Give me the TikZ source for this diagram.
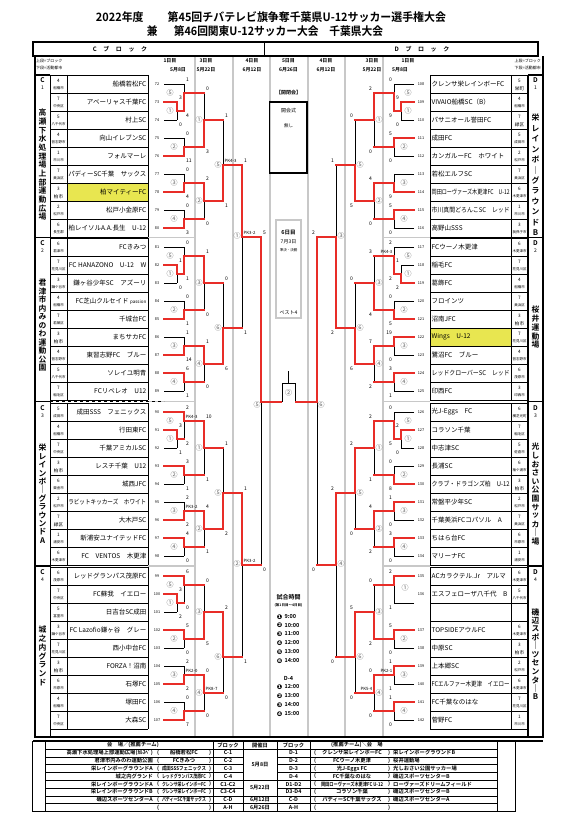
\documentclass[tikz,border=0pt]{standalone}
\usepackage{fontspec}
\setmainfont{Noto Sans CJK JP}[BoldFont={Noto Sans CJK JP Bold}]
\newfontfamily\dvs{DejaVu Sans}
\usepackage{graphicx}
\pgfdeclarelayer{top}
\pgfsetlayers{main,top}
\definecolor{rl}{RGB}{232,45,40}
\definecolor{yl}{RGB}{232,230,80}
\definecolor{gln}{RGB}{200,200,200}
\newsavebox\tnbox
\newcommand\fitw[2]{\sbox\tnbox{#2}\ifdim\wd\tnbox>#1\relax\resizebox{#1}{\height}{\usebox\tnbox}\else\usebox\tnbox\fi}
\newcommand\exw[2]{\resizebox{#1}{\height}{#2}}
\newcommand\fs[1]{\fontsize{#1}{#1}\selectfont}
\def\anc{west}
\tikzset{
  bk/.style={line width=0.8pt,black},
  rd/.style={line width=1.8pt,rl,line cap=rect},
  gline/.style={line width=1.3pt,gln},
  thk/.style={line width=1.6pt,black},
  thn/.style={line width=0.6pt,black},
  sc/.style={font=\fs{5},inner sep=0},
  pk/.style={font=\fs{4.3},inner sep=0},
  lb/.style={font=\fs{7},text=black!60,inner sep=0},
  mn/.style={font=\fs{3.8},inner sep=0},
  sd/.style={font=\fs{4.6},inner sep=0},
  ct/.style={font=\fs{3.5},inner sep=0},
  tm/.style={font=\fs{6.5},inner sep=0},
  vt/.style={font=\bfseries\fs{7.8},inner sep=0},
  hd/.style={font=\bfseries\fs{5},inner sep=0},
  tb/.style={font=\bfseries\fs{5.3},inner sep=0},
}
% match: xv, xa, ya, ta, xb, yb, tb, yo, winner
\newcommand\M[9]{%
 \ifnum#9=1\relax
  \draw[bk] (#1,{#8}) -- (#1,{#6});
  \ifnum#7=1\relax \draw[bk] (#5,{#6}) -- (#1,{#6});\fi
  \begin{pgfonlayer}{top}
   \draw[rd] (#2,{#3}) -- (#1,{#3}) -- (#1,{#8});
   \ifnum#7=0\relax \draw[rd] (#5,{#6}) -- (#1,{#6});\fi
  \end{pgfonlayer}
 \else
  \draw[bk] (#1,{#3}) -- (#1,{#8});
  \ifnum#4=1\relax \draw[bk] (#2,{#3}) -- (#1,{#3});\fi
  \begin{pgfonlayer}{top}
   \draw[rd] (#5,{#6}) -- (#1,{#6}) -- (#1,{#8});
   \ifnum#4=0\relax \draw[rd] (#2,{#3}) -- (#1,{#3});\fi
  \end{pgfonlayer}
 \fi}
\newcommand\SC[5]{\node[sc,anchor=\anc] at ({#1+2},{#2-4.5}) {#4};\node[sc,anchor=\anc] at ({#1+2},{#3+4.5}) {#5};}
\newcommand\PK[3]{\node[pk,anchor=\anc] at ({#1+1.5},{#2-4.5}) {#3};}
\newcommand\LB[3]{\node[lb] at (#1,{#2}) {#3};}
\newcommand\nineR[6]{%
 \M{177}{164}{#1+27}{1}{164}{#1+45}{1}{#1+36}{#2}%
 \M{184}{164}{#1+9}{1}{177}{#1+36}{0}{#1+18}{#3}%
 \M{184}{164}{#1+63}{1}{164}{#1+81}{1}{#1+72}{#4}%
 \M{184}{164}{#1+99}{1}{164}{#1+117}{1}{#1+108}{#5}%
 \M{184}{164}{#1+135}{1}{164}{#1+153}{1}{#1+144}{#6}%
 \LB{170}{#1+18}{⑤}\LB{170}{#1+36}{①}\LB{174}{#1+72}{②}\LB{174}{#1+108}{③}\LB{174}{#1+144}{④}}
\newcommand\eightR[5]{%
 \M{184}{164}{#1+9}{1}{164}{#1+36}{1}{#1+18}{#2}%
 \M{184}{164}{#1+63}{1}{164}{#1+81}{1}{#1+72}{#3}%
 \M{184}{164}{#1+99}{1}{164}{#1+117}{1}{#1+108}{#4}%
 \M{184}{164}{#1+135}{1}{164}{#1+153}{1}{#1+144}{#5}%
 \LB{173}{#1+21}{①}\LB{174}{#1+72}{②}\LB{174}{#1+108}{③}\LB{174}{#1+144}{④}}
\newcommand\nineS[5]{\SC{177}{#1+27}{#1+45}{#2}{#3}\SC{184}{#1+9}{#1+36}{#4}{#5}}
\newcommand\nineT[7]{\SC{184}{#1+63}{#1+81}{#2}{#3}\SC{184}{#1+99}{#1+117}{#4}{#5}\SC{184}{#1+135}{#1+153}{#6}{#7}}
\newcommand\thirdR[8]{%
 \M{204}{184}{#1+18}{0}{184}{#1+72}{0}{#1+45}{#3}%
 \M{204}{184}{#1+108}{0}{184}{#1+144}{0}{#1+126}{#4}%
 \M{204}{184}{#2+18}{0}{184}{#2+72}{0}{#2+45}{#5}%
 \M{204}{184}{#2+108}{0}{184}{#2+144}{0}{#2+126}{#6}%
 \M{223}{204}{#1+45}{0}{204}{#1+126}{0}{#1+90}{#7}%
 \M{223}{204}{#2+45}{0}{204}{#2+126}{0}{#2+90}{#8}%
 \LB{199}{#1+45}{①}\LB{199}{#1+126}{②}\LB{199}{#2+45}{③}\LB{199}{#2+126}{④}\LB{218}{#1+90}{⑤}\LB{218}{#2+90}{⑥}}
\newcommand\thirdS[8]{\SC{204}{#1+18}{#1+72}{#3}{#4}\SC{204}{#1+108}{#1+144}{#5}{#6}\SC{204}{#2+18}{#2+72}{#7}{#8}}
\newcommand\thirdT[8]{\SC{204}{#2+108}{#2+144}{#3}{#4}\SC{223}{#1+45}{#1+126}{#5}{#6}\SC{223}{#2+45}{#2+126}{#7}{#8}}
% teams
\newcommand\TL[6]{%
 \node[mn] at (157,{#1+18*#2-9}) {#3};
 \node[sd] at (58.5,{#1+18*#2-12.5}) {#4};
 \node[ct] at (58.5,{#1+18*#2-4.5}) {\fitw{14pt}{#5}};
 \node[tm,anchor=east] at (146.5,{#1+18*#2-9}) {\fitw{78pt}{#6}};}
\newcommand\TR[6]{%
 \node[mn] at (421,{#1+18*#2-9}) {#3};
 \node[sd] at (519.5,{#1+18*#2-12.5}) {#4};
 \node[ct] at (519.5,{#1+18*#2-4.5}) {\fitw{14pt}{#5}};
 \node[tm,anchor=west] at (431.5,{#1+18*#2-9}) {\fitw{78pt}{#6}};}
\newcommand\bgc[1]{{\fs{4.6}#1}}
\begin{document}
\begin{tikzpicture}[x=1pt,y=-1pt]
\useasboundingbox (0,0) rectangle (571,829);
\fill[white] (0,0) rectangle (571,829);
% ---- titles
\node[font=\bfseries\fs{11.5},inner sep=0] (t1) at (271,17) {\exw{350pt}{2022年度\hspace{2.2em}第45回チバテレビ旗争奪千葉県U-12サッカー選手権大会}};
\node[font=\bfseries\fs{11.5},inner sep=0] (t2) at (265,31) {\exw{236pt}{兼\hspace{1.5em}第46回関東U-12サッカー大会\hspace{1em}千葉県大会}};
% ---- header
\draw[thk] (33,42) rectangle (538,56);
\draw[thn] (264,42) -- (264,56);
\node[font=\bfseries\fs{6},inner sep=0] (hc) at (120,49) {C\hspace{1.1em}ブ\hspace{1.1em}ロ\hspace{1.1em}ッ\hspace{1.1em}ク};
\node[font=\bfseries\fs{6},inner sep=0] (hd) at (422,49) {D\hspace{1.1em}ブ\hspace{1.1em}ロ\hspace{1.1em}ッ\hspace{1.1em}ク};
\node[font=\fs{4},inner sep=0,anchor=west] at (36,61) {上段=ブロック};
\node[font=\fs{4},inner sep=0,anchor=west] at (36,68) {下段=活動都市};
\node[font=\fs{4},inner sep=0,anchor=east] at (541,61) {上段=ブロック};
\node[font=\fs{4},inner sep=0,anchor=east] at (541,68) {下段=活動都市};
\foreach \x/\a/\b/\bx in {170/1日目/5月8日/178, 206/3日目/5月22日/206, 252/4日目/6月12日/252, 288.5/5日目/6月26日/288.5, 326/4日目/6月12日/326, 372/3日目/5月22日/372, 408/1日目/5月8日/400}
 {\node[hd] at (\x,61) {\a}; \node[hd] at (\bx,70) {\b};}
% ---- gray column lines
\foreach \x in {195,233,270,308,345,383} \draw[gline] (\x,57) -- (\x,737);
\foreach \y in {237.5,401.5,566} {\draw[gline] (148,\y) -- (195,\y); \draw[gline] (383,\y) -- (430,\y);}
% ---- yellow cells
\fill[yl] (67,183) rectangle (148,201);
\fill[yl] (430,328) rectangle (511,346);
% ---- team grids
\foreach \s in {75,238,403,567} {
 \foreach \k in {0,...,9} {\draw[thn] (50,{\s+18*\k}) -- (148,{\s+18*\k}); \draw[thn] (430,{\s+18*\k}) -- (528,{\s+18*\k});}
 \draw[thn] (67,\s) -- (67,{\s+162}); \draw[thn] (148,\s) -- (148,{\s+162});
 \draw[thn] (511,\s) -- (511,{\s+162}); \draw[thn] (430,\s) -- (430,{\s+162});
}
\draw[thn,dashed] (50,401.5) -- (164,401.5);
% ---- frame and label columns
\draw[thk] (35,56) -- (35,737) -- (543,737) -- (543,56);
\draw[thn] (50,75) -- (50,737);
\draw[thk] (528,75) -- (528,737);
\foreach \y in {75,237.5,401.5,566} {\draw[thk] (35,\y) -- (50,\y); \draw[thk] (528,\y) -- (543,\y);}
\foreach \s/\n in {75/1,238/2,403/3,567/4} {
 \node[font=\bfseries\fs{6.5},inner sep=0] at (42.5,{\s+5}) {C};
 \node[font=\fs{5},inner sep=0] at (42.5,{\s+13}) {\n};
 \node[font=\bfseries\fs{6.5},inner sep=0] at (535.5,{\s+5}) {D};
 \node[font=\fs{5},inner sep=0] at (535.5,{\s+13}) {\n};
}
\foreach \c [count=\i from 0] in {高,瀬,下,水,処,理,場,上,部,運,動,広,場} \node[vt] at (42.5,{113+8.67*\i}) {\c};
\foreach \c [count=\i from 0] in {君,津,市,内,み,の,わ,運,動,公,園} \node[vt] at (42.5,{283+8.5*\i}) {\c};
\foreach \c [count=\i from 0] in {栄,レ,イ,ン,ボ,｜,グ,ラ,ウ,ン,ド,A} \node[vt] at (42.5,{448+8.4*\i}) {\c};
\foreach \c [count=\i from 0] in {城,之,内,グ,ラ,ン,ド} \node[vt] at (42.5,{630+8.7*\i}) {\c};
\foreach \c [count=\i from 0] in {栄,レ,イ,ン,ボ,｜,グ,ラ,ウ,ン,ド,B} \node[vt] at (535.5,{118+10.45*\i}) {\c};
\foreach \c [count=\i from 0] in {桜,井,運,動,場} \node[vt] at (535.5,{310+8.75*\i}) {\c};
\foreach \c [count=\i from 0] in {光,し,お,さ,い,公,園,サ,ッ,カ,｜,場} \node[vt] at (535.5,{447+8.6*\i}) {\c};
\foreach \c [count=\i from 0] in {磯,辺,ス,ポ,｜,ツ,セ,ン,タ,｜,B} \node[vt] at (535.5,{612+8.5*\i}) {\c};
% ---- left teams
\TL{75}{1}{72}{4}{船橋市}{船橋若松FC}
\TL{75}{2}{73}{7}{中央区}{アベーリャス千葉FC}
\TL{75}{3}{74}{5}{八千代市}{村上SC}
\TL{75}{4}{75}{4}{習志野市}{向山イレブンSC}
\TL{75}{5}{76}{1}{市川市}{フォルマーレ}
\TL{75}{6}{77}{7}{美浜区}{パディーSC千葉　サックス}
\TL{75}{7}{78}{3}{\bgc{柏市}}{柏マイティーFC}
\TL{75}{8}{79}{2}{松戸市}{松戸小金原FC}
\TL{75}{9}{80}{6}{長生郡}{柏レイソルA.A.長生　U-12}
\TL{238}{1}{81}{6}{君津市}{FCきみつ}
\TL{238}{2}{82}{7}{花見川区}{FC HANAZONO　U-12　W}
\TL{238}{3}{83}{3}{鎌ケ谷市}{鎌ヶ谷少年SC　アズーリ}
\TL{238}{4}{84}{4}{船橋市}{FC芝山クルセイド {\fs{4.5}passion}}
\TL{238}{5}{85}{7}{若葉区}{千城台FC}
\TL{238}{6}{86}{3}{\bgc{柏市}}{まちサカFC}
\TL{238}{7}{87}{4}{習志野市}{東習志野FC　ブルー}
\TL{238}{8}{88}{5}{八千代市}{ソレイユ明青}
\TL{238}{9}{89}{7}{稲毛区}{FCリベレオ　U12}
\TL{403}{1}{90}{5}{成田市}{成田SSS　フェニックス}
\TL{403}{2}{91}{4}{船橋市}{行田東FC}
\TL{403}{3}{92}{7}{中央区}{千葉アミカルSC}
\TL{403}{4}{93}{3}{\bgc{柏市}}{レスチ千葉　U12}
\TL{403}{5}{94}{6}{東金市}{城西JFC}
\TL{403}{6}{95}{2}{松戸市}{ラビットキッカーズ　ホワイト}
\TL{403}{7}{96}{7}{\bgc{緑区}}{大木戸SC}
\TL{403}{8}{97}{1}{浦安市}{新浦安ユナイテッドFC}
\TL{403}{9}{98}{6}{木更津市}{FC　VENTOS　木更津}
\TL{567}{1}{99}{6}{茂原市}{レッドグランパス茂原FC}
\TL{567}{2}{100}{7}{中央区}{FC蘇我　イエロー}
\TL{567}{3}{101}{5}{富里市}{日吉台SC成田}
\TL{567}{4}{102}{3}{鎌ケ谷市}{FC Lazofio鎌ヶ谷　グレー}
\TL{567}{5}{103}{7}{花見川区}{西小中台FC}
\TL{567}{6}{104}{3}{\bgc{柏市}}{FORZA！沼南}
\TL{567}{7}{105}{6}{市原市}{石塚FC}
\TL{567}{8}{106}{4}{船橋市}{塚田FC}
\TL{567}{9}{107}{7}{中央区}{大森SC}
% ---- right teams
\TR{75}{1}{108}{5}{\bgc{栄町}}{クレンサ栄レインボーFC}
\TR{75}{2}{109}{4}{船橋市}{VIVAIO船橋SC（B）}
\TR{75}{3}{110}{7}{\bgc{緑区}}{パサニオール誉田FC}
\TR{75}{4}{111}{5}{成田市}{成田FC}
\TR{75}{5}{112}{2}{松戸市}{カンガルーFC　ホワイト}
\TR{75}{6}{113}{7}{美浜区}{若松エルフSC}
\TR{75}{7}{114}{6}{木更津市}{岡田ローヴァーズ木更津FC　U-12}
\TR{75}{8}{115}{1}{市川市}{市川真間どろんこSC　レッド}
\TR{75}{9}{116}{3}{我孫子市}{高野山SSS}
\TR{238}{1}{117}{6}{木更津市}{FCウーノ木更津}
\TR{238}{2}{118}{7}{花見川区}{稲毛FC}
\TR{238}{3}{119}{4}{船橋市}{葛飾FC}
\TR{238}{4}{120}{7}{美浜区}{フロインツ}
\TR{238}{5}{121}{3}{\bgc{柏市}}{沼南JFC}
\TR{238}{6}{122}{7}{花見川区}{Wings　U-12}
\TR{238}{7}{123}{4}{習志野市}{鷺沼FC　ブルー}
\TR{238}{8}{124}{6}{茂原市}{レッドクローバーSC　レッド}
\TR{238}{9}{125}{3}{印西市}{印西FC}
\TR{403}{1}{126}{6}{横芝光町}{光J-Eggs　FC}
\TR{403}{2}{127}{7}{稲毛区}{コラソン千葉}
\TR{403}{3}{128}{5}{佐倉市}{中志津SC}
\TR{403}{4}{129}{6}{袖ケ浦市}{長浦SC}
\TR{403}{5}{130}{3}{\bgc{柏市}}{クラブ・ドラゴンズ柏　U-12}
\TR{403}{6}{131}{2}{松戸市}{常盤平少年SC}
\TR{403}{7}{132}{7}{美浜区}{千葉美浜FCコパソル　A}
\TR{403}{8}{133}{6}{市原市}{ちはら台FC}
\TR{403}{9}{134}{1}{浦安市}{マリーナFC}
\TR{567}{1}{135}{6}{木更津市}{ACカラクテル.Jr　アルマ}
\TR{567}{2}{136}{5}{八千代市}{エスフェローザ八千代　B}
\TR{567}{4}{137}{6}{木更津市}{TOPSIDEアウルFC}
\TR{567}{5}{138}{3}{\bgc{柏市}}{中原SC}
\TR{567}{6}{139}{2}{松戸市}{上本郷SC}
\TR{567}{7}{140}{6}{木更津市}{FCエルファー木更津　イエロー}
\TR{567}{8}{141}{7}{花見川区}{FC千葉なのはな}
\TR{567}{9}{142}{1}{市川市}{菅野FC}
% ---- left bracket
\begin{scope}
\def\anc{west}
\nineR{75}{1}{2}{2}{2}{2}
\nineS{75}{3}{0}{1}{4}\nineT{75}{0}{11}{0}{4}{0}{3}
\nineR{238}{1}{2}{2}{2}{1}
\nineS{238}{1}{0}{0}{1}\nineT{238}{0}{1}{1}{14}{6}{1}
\nineR{403}{1}{1}{1}{2}{1}
\nineS{403}{3}{1}{2}{2}\nineT{403}{3}{1}{2}{2}{4}{0}
\PK{184}{421}{PK4-3}\PK{184}{511}{PK3-2}
\nineR{567}{1}{1}{1}{2}{2}
\nineS{567}{3}{2}{6}{0}\nineT{567}{5}{0}{2}{2}{0}{7}
\PK{184}{675}{PK2-0}
\thirdR{75}{238}{2}{1}{1}{1}{2}{2}
\thirdS{75}{238}{0}{3}{2}{0}{1}{0}\thirdT{75}{238}{1}{0}{1}{1}{0}{6}
\PK{223}{165}{PK4-3}
\thirdR{403}{567}{1}{1}{2}{1}{2}{1}
\thirdS{403}{567}{10}{1}{4}{1}{0}{5}\thirdT{403}{567}{0}{0}{1}{2}{2}{0}
\PK{204}{693}{PK8-7}
\M{242}{223}{165}{0}{223}{328}{0}{237}{1}\SC{242}{165}{328}{1}{1}\PK{242}{237}{PK3-2}
\M{242}{223}{493}{0}{223}{657}{0}{565}{1}\SC{242}{493}{657}{1}{1}\PK{242}{565}{PK3-2}
\LB{237}{236}{①}\LB{237}{564}{②}
\M{261}{242}{237}{0}{242}{565}{0}{402}{1}\SC{261}{237}{565}{5}{0}
\LB{257}{405}{⑤}
\end{scope}
% ---- right bracket (mirrored)
\begin{scope}[xshift=578pt,xscale=-1]
\def\anc{east}
\nineR{75}{1}{2}{1}{2}{1}
\nineS{75}{9}{0}{0}{9}\nineT{75}{5}{0}{}{9}{5}{0}
\nineR{238}{2}{2}{2}{1}{1}
\nineS{238}{1}{2}{2}{2}\nineT{238}{0}{5}{19}{0}{3}{1}
\PK{184}{256}{PK4-3}
\nineR{403}{1}{2}{2}{1}{1}
\nineS{403}{12}{0}{0}{5}\nineT{403}{0}{8}{1}{0}{3}{0}
\eightR{567}{1}{1}{1}{1}
\SC{184}{576}{603}{2}{1}\nineT{567}{5}{0}{1}{1}{1}{0}
\PK{184}{675}{PK2-1}
\thirdR{75}{238}{1}{1}{2}{1}{2}{2}
\thirdS{75}{238}{2}{0}{4}{0}{3}{4}\thirdT{75}{238}{7}{2}{0}{5}{0}{6}
\thirdR{403}{567}{1}{1}{2}{1}{1}{1}
\thirdS{403}{567}{2}{1}{4}{2}{0}{2}\thirdT{403}{567}{0}{0}{2}{0}{5}{0}
\PK{204}{693}{PK5-4}
\M{242}{223}{165}{0}{223}{328}{0}{237}{2}\SC{242}{165}{328}{1}{2}
\M{242}{223}{493}{0}{223}{657}{0}{565}{1}\SC{242}{493}{657}{2}{0}
\LB{237}{236}{③}\LB{237}{564}{④}
\M{261}{242}{237}{0}{242}{565}{0}{402}{1}\SC{261}{237}{565}{2}{0}
\LB{257}{405}{⑥}
\end{scope}
% ---- final
\begin{pgfonlayer}{top}
\draw[rd] (261,402) -- (281.5,402);
\draw[rd] (317,402) -- (295.5,402);
\end{pgfonlayer}
\draw[bk] (282,402) -- (282,383) -- (295,383) -- (295,402);
\draw[bk] (288.5,383) -- (288.5,371);
\node[lb] (fin) at (288.5,393) {②};
% ---- center boxes
\node[font=\bfseries\fs{5},inner sep=0] at (288.5,93) {【開閉会】};
\draw[thk] (269.5,102) rectangle (307,173);
\node[font=\fs{5},inner sep=0] at (288.5,111) {開会式};
\node[font=\fs{4.5},inner sep=0] at (288.5,126) {無し};
\draw[gline] (276,220) rectangle (301,318);
\node[font=\bfseries\fs{5.5},inner sep=0] at (288.5,233) {6日目};
\node[font=\fs{5},inner sep=0] at (288.5,242) {7月3日};
\node[font=\fs{3.5},inner sep=0] at (288.5,250) {準決・決勝};
\node[font=\fs{5},inner sep=0] at (288.5,313) {ベスト4};
\node[font=\bfseries\fs{6},inner sep=0] at (288.5,597) {試合時間};
\node[font=\bfseries\fs{3.5},inner sep=0] at (288.5,605) {(第1日目〜4日目)};
\foreach \n/\t/\y in {❶/9:00/617,❷/10:00/625.5,❸/11:00/634,❹/12:00/643,❺/13:00/652,❻/14:00/661,❶/12:00/687,❷/13:00/696,❸/14:00/705,❹/15:00/714}
 {\node[font=\dvs\bfseries\fs{6.5},inner sep=0] at (279.5,\y) {\n};
  \node[font=\bfseries\fs{5.5},inner sep=0,anchor=west] at (284.5,\y) {\t};}
\node[font=\bfseries\fs{5.5},inner sep=0] at (288.5,678) {D-4};
% ---- bottom table
\draw[thk] (33,741) -- (543,741);
\draw[thn] (32,741) rectangle (515,811.5);
\foreach \x in {45,213,243,277,310,497} \draw[thn] (\x,741) -- (\x,811.5);
\draw[thn] (45,749) -- (497,749);
\foreach \k in {1,...,7} {\draw[thn] (45,{749+7.8*\k}) -- (243,{749+7.8*\k}); \draw[thn] (277,{749+7.8*\k}) -- (497,{749+7.8*\k});}
\foreach \k in {4,6,7} \draw[thn] (243,{749+7.8*\k}) -- (277,{749+7.8*\k});
\node[tb] at (133,745) {会　場／(推薦チーム)};
\node[tb] at (228,745) {ブロック};
\node[tb] at (260,745) {開催日};
\node[tb] at (293.5,745) {ブロック};
\node[tb] at (357,745) {(推薦チーム)＼会　場};
\foreach \k/\v/\tl/\bl/\br/\tr/\vr in {
 1/高瀬下水処理場上部運動広場(ｶﾙｽﾍﾟ)/船橋若松FC/C-1/D-1/クレンサ栄レインボーFC/栄レインボーグラウンドB,
 2/君津市内みのわ運動公園/FCきみつ/C-2/D-2/FCウーノ木更津/桜井運動場,
 3/栄レインボーグラウンドA/成田SSSフェニックス/C-3/D-3/光J-Eggs FC/光しおさい公園サッカー場,
 4/城之内グランド/レッドグランパス茂原FC/C-4/D-4/FC千葉なのはな/磯辺スポーツセンターB,
 5/栄レインボーグラウンドA/クレンサ栄レインボーFC/C1-C2/D1-D2/岡田ローヴァーズ木更津FC U-12/ローヴァーズドリームフィールド,
 6/栄レインボーグラウンドB/クレンサ栄レインボーFC/C3-C4/D3-D4/コラソン千葉/磯辺スポーツセンターB,
 7/磯辺スポーツセンターA/パディーSC千葉サックス/C-D/C-D/パディーSC千葉サックス/磯辺スポーツセンターA,
 8/{}/{}/A-H/A-H/{}/{}}
{
 \node[tb,anchor=east] at (153,{749+7.8*\k-3.9}) {\fitw{105pt}{\v}};
 \node[tb] at (158,{749+7.8*\k-3.9}) {(};
 \node[tb] at (184,{749+7.8*\k-3.9}) {\fitw{44pt}{\tl}};
 \node[tb] at (210,{749+7.8*\k-3.9}) {)};
 \node[tb] at (228,{749+7.8*\k-3.9}) {\bl};
 \node[tb] at (293.5,{749+7.8*\k-3.9}) {\br};
 \node[tb] at (315,{749+7.8*\k-3.9}) {(};
 \node[tb] at (352,{749+7.8*\k-3.9}) {\fitw{62pt}{\tr}};
 \node[tb] at (389,{749+7.8*\k-3.9}) {)};
 \node[tb,anchor=west] at (393,{749+7.8*\k-3.9}) {\fitw{102pt}{\vr}};
}
\node[tb] at (260,{749+7.8*2}) {5月8日};
\node[tb] at (260,{749+7.8*5}) {5月22日};
\node[tb] at (260,{749+7.8*6.5}) {6月12日};
\node[tb] at (260,{749+7.8*7.5}) {6月26日};
\end{tikzpicture}
\end{document}
